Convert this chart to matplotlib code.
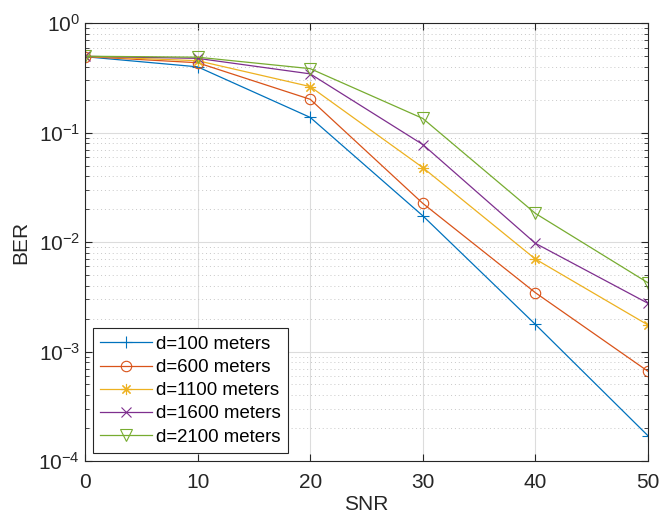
import matplotlib
matplotlib.use('Agg')
import matplotlib.pyplot as plt
from matplotlib.ticker import LogLocator, NullFormatter

plt.rcParams['font.family'] = ['Liberation Sans', 'DejaVu Sans']
plt.rcParams['mathtext.fontset'] = 'custom'
plt.rcParams['mathtext.rm'] = 'Liberation Sans'
plt.rcParams['mathtext.it'] = 'Liberation Sans'
plt.rcParams['mathtext.default'] = 'regular'

# data
snr = [0, 10, 20, 30, 40, 50]
ber_100 = [0.495, 0.40, 0.138, 0.0174, 0.00177, 0.00017]
ber_600 = [0.497, 0.436, 0.202, 0.0226, 0.00345, 0.00066]
ber_1100 = [0.498, 0.455, 0.264, 0.048, 0.0070, 0.00175]
ber_1600 = [0.499, 0.478, 0.345, 0.078, 0.00975, 0.00276]
ber_2100 = [0.50, 0.49, 0.385, 0.135, 0.0183, 0.00425]
labels = ['d=100 meters', 'd=600 meters', 'd=1100 meters', 'd=1600 meters', 'd=2100 meters']

series = [ber_100, ber_600, ber_1100, ber_1600, ber_2100]
colors = ['#0072BD', '#D95319', '#EDB120', '#7E2F8E', '#77AC30']
markers = ['+', 'o', (8, 2, 0), 'x', 'v']   # (8,2,0) = matlab-like asterisk
msizes = [8, 7.5, 8, 6.5, 8.5]

fig = plt.figure(figsize=(6.6, 5.22), dpi=100)
ax = fig.add_axes([0.1288, 0.1169, 0.8530, 0.8385])

for ys, c, m, ms, lab in zip(series, colors, markers, msizes, labels):
    ax.semilogy(snr, ys, color=c, marker=m, markersize=ms, markerfacecolor='none',
                markeredgecolor=c, markeredgewidth=0.8, linewidth=0.9, label=lab)

ax.set_xlim(0, 50)
ax.set_ylim(1e-4, 1)
ax.set_xticks([0, 10, 20, 30, 40, 50])
ax.yaxis.set_major_locator(LogLocator(base=10, numticks=10))
ax.yaxis.set_minor_locator(LogLocator(base=10, subs=range(2, 10), numticks=20))
ax.yaxis.set_minor_formatter(NullFormatter())

ax.grid(True, which='major', color='#dcdcdc', linewidth=0.8)
ax.grid(True, which='minor', axis='y', color='#c8c8c8', linestyle=(0, (1, 3)), linewidth=0.7)
ax.set_axisbelow(True)

ax.tick_params(which='both', direction='in', top=True, right=True, colors='#262626',
               labelcolor='#262626', labelsize=15)
ax.tick_params(which='major', length=5)
ax.tick_params(which='minor', length=3)
ax.tick_params(axis='x', which='major', pad=9)
for s in ax.spines.values():
    s.set_color('#262626')
    s.set_linewidth(0.8)

ax.set_xlabel('SNR', fontsize=15, color='#262626', labelpad=2)
ax.set_ylabel('BER', fontsize=15, color='#262626', labelpad=6)

leg = ax.legend(loc='lower left', fontsize=13.4, handlelength=2.75, fancybox=False,
                framealpha=1, edgecolor='#262626', borderpad=0.4, labelspacing=0.33,
                handletextpad=0.25, borderaxespad=0.43)
leg.get_frame().set_linewidth(0.8)

fig.savefig('out.png', dpi=100)
